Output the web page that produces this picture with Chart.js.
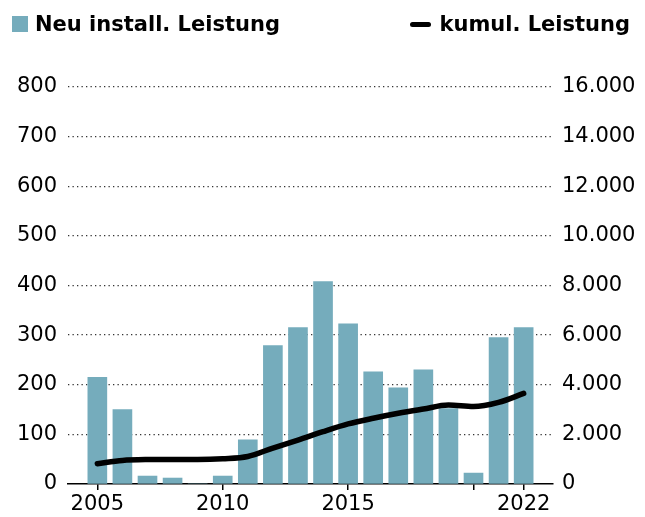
<!DOCTYPE html>
<html>
<head>
<meta charset="utf-8">
<script src="https://cdn.jsdelivr.net/npm/chart.js@4/dist/chart.umd.min.js"></script>
<style>
  html, body { margin: 0; padding: 0; background: #fff; }
  #wrap { position: relative; width: 645px; height: 517px; overflow: hidden; font-family: "DejaVu Sans", sans-serif; }
  #c { position: absolute; left: 0; top: 0; }
  .leg { position: absolute; top: 9px; height: 30px; display: flex; align-items: center; font-weight: 700; font-size: 21px; color: #000; white-space: nowrap; }
  .sw { display: inline-block; width: 16px; height: 16px; background: #75acbc; margin-right: 7px; }
  .ln { display: inline-block; width: 21px; height: 5px; background: #000; border-radius: 3px; margin-right: 8px; }
</style>
</head>
<body>
<div id="wrap">
  <canvas id="c" width="645" height="517"></canvas>
  <div class="leg" id="leg1" style="left:12px;"><span class="sw"></span><span>Neu install. Leistung</span></div>
  <div class="leg" id="leg2" style="right:15px;"><span class="ln"></span><span>kumul. Leistung</span></div>
</div>
<script>
// ---- data ----
const years = [2005, 2006, 2007, 2008, 2009, 2010, 2011, 2012, 2013, 2014, 2015, 2016, 2017, 2018, 2019, 2020, 2021, 2022];
const newCapacity = [215, 150, 16, 12, 0, 16, 89, 279, 315, 408, 323, 226, 194, 230, 152, 22, 295, 315];
const cumulCapacity = [820, 950, 985, 990, 990, 1020, 1110, 1450, 1770, 2110, 2420, 2650, 2850, 3020, 3180, 3120, 3290, 3650];
const xTickValues = [2005, 2010, 2015, 2020, 2022];
const xTickLabels = ['2005', '2010', '2015', '', '2022'];
const seriesNames = ['Neu install. Leistung', 'kumul. Leistung'];

const tickFont = { family: '"DejaVu Sans", sans-serif', size: 21, weight: '400' };

new Chart(document.getElementById('c'), {
  data: {
    datasets: [
      {
        type: 'line',
        label: seriesNames[1],
        data: years.map((y, i) => ({ x: y, y: cumulCapacity[i] })),
        yAxisID: 'y1',
        borderColor: '#000',
        borderWidth: 5.5,
        cubicInterpolationMode: 'monotone',
        pointRadius: 0,
        borderCapStyle: 'round',
        borderJoinStyle: 'round',
        order: 0
      },
      {
        type: 'bar',
        label: seriesNames[0],
        data: years.map((y, i) => ({ x: y, y: newCapacity[i] })),
        yAxisID: 'y',
        backgroundColor: '#75acbc',
        borderWidth: 0,
        barThickness: 19,
        order: 1
      }
    ]
  },
  options: {
    responsive: false,
    animation: false,
    devicePixelRatio: 1,
    layout: { padding: { top: 87, left: 0, right: 0, bottom: 0 } },
    plugins: { legend: { display: false }, tooltip: { enabled: false } },
    scales: {
      x: {
        type: 'linear',
        offset: false,
        min: 2003.83,
        max: 2023.17,
        afterBuildTicks: s => { s.ticks = xTickValues.map(v => ({ value: v })); },
        afterFit: s => { s.height = 33; },
        ticks: {
          autoSkip: false,
          maxRotation: 0,
          color: '#000',
          font: tickFont,
          padding: 2,
          callback: (v, i) => xTickLabels[i]
        },
        grid: { offset: false, drawOnChartArea: false, drawTicks: true, tickLength: 6, color: '#000', lineWidth: 1.5 },
        border: { display: true, color: '#000', width: 1.5 }
      },
      y: {
        position: 'left',
        min: 0,
        max: 800,
        afterFit: s => { s.width = 68; },
        ticks: { stepSize: 100, color: '#000', font: tickFont, padding: 11 },
        grid: {
          drawTicks: false,
          lineWidth: 1.3,
          color: ctx => (ctx.tick && ctx.tick.value === 0) ? 'rgba(0,0,0,0)' : '#333'
        },
        border: { display: false, dash: [1.3, 3.2] }
      },
      y1: {
        position: 'right',
        min: 0,
        max: 16000,
        afterFit: s => { s.width = 92; },
        ticks: {
          stepSize: 2000,
          color: '#000',
          font: tickFont,
          padding: 9,
          callback: v => v.toString().replace(/\B(?=(\d{3})+(?!\d))/g, '.')
        },
        grid: { drawOnChartArea: false, drawTicks: false },
        border: { display: false }
      }
    }
  }
});
</script>
</body>
</html>
